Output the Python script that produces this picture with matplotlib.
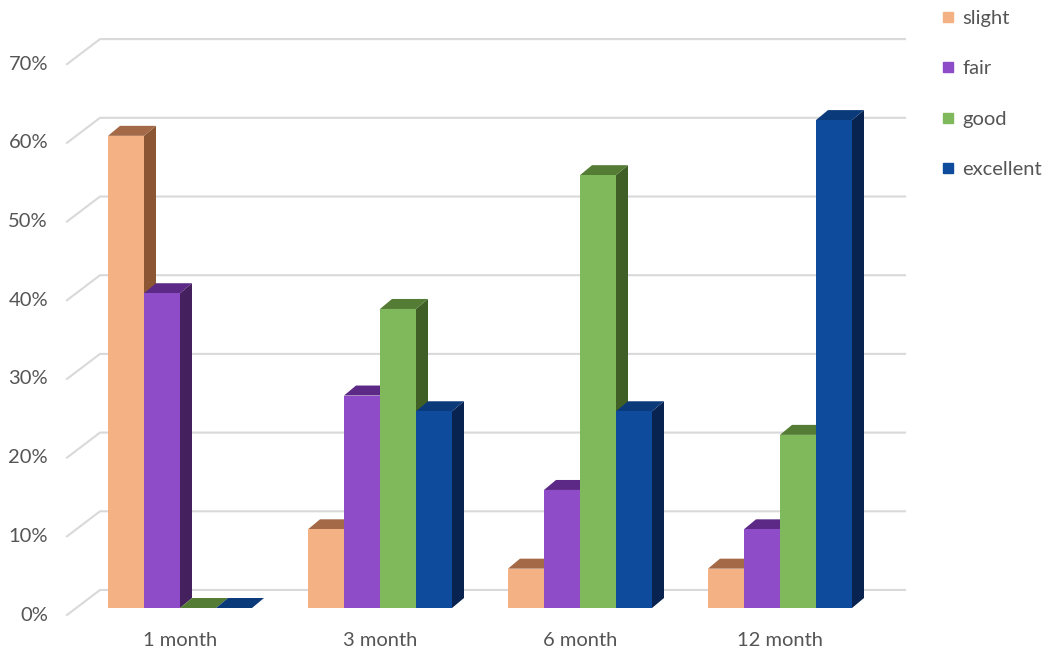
import matplotlib.pyplot as plt
from matplotlib.patches import Polygon
from matplotlib.lines import Line2D

# Данные
categories = ["1 month", "3 month", "6 month", "12 month"]
series = ["slight", "fair", "good", "excellent"]
slight = [60, 10, 5, 5]
fair = [40, 27, 15, 10]
good = [0, 38, 55, 22]
excellent = [0, 25, 25, 62]
ticks = [0, 10, 20, 30, 40, 50, 60, 70]

values = [slight, fair, good, excellent]
front_col = ["#F4B183", "#8E4CC8", "#80B95C", "#0F4B9C"]
top_col = ["#A46A48", "#5C2A86", "#547C34", "#0B3A7A"]
side_col = ["#8A5634", "#45205F", "#3F5F26", "#08234F"]

plt.rcParams['font.family'] = ['Lato', 'DejaVu Sans']
text_col = "#555555"

fig = plt.figure(figsize=(10.5, 6.59), dpi=100)
ax = fig.add_axes([0, 0, 1, 1])
ax.set_xlim(-0.9, 4.35)
ax.set_ylim(-6.48, 77.26)
ax.axis("off")

# смещения глубины (в единицах данных)
bdx, bdy = 0.06, 1.27       # задняя грань столбика
wfx, wfy = -0.045, -0.89    # передний край боковой стенки
wbx, wby = 0.12, 2.29       # задняя стенка
wall_left, wall_right = -0.565, 3.625

# сетка
for t in ticks:
    ax.plot([wall_left, wall_left + (wbx - wfx), wall_right],
            [t + wfy, t + wby, t + wby], color="#d9d9d9", lw=1.5, zorder=1)
    ax.text(-0.66, t + wfy, f"{t}%", ha="right", va="center",
            fontsize=14.5, color=text_col)

w = 0.18
z = 2
for j, cat in enumerate(categories):
    for i in range(len(series)):
        v = values[i][j]
        x0 = j - 2 * w + i * w
        x1 = x0 + w
        side = Polygon([(x1, 0), (x1 + bdx, bdy), (x1 + bdx, v + bdy), (x1, v)],
                       closed=True, facecolor=side_col[i], edgecolor="none", zorder=z)
        top = Polygon([(x0, v), (x0 + bdx, v + bdy), (x1 + bdx, v + bdy), (x1, v)],
                      closed=True, facecolor=top_col[i], edgecolor="none", zorder=z + 1)
        ax.add_patch(side)
        ax.add_patch(top)
        ax.bar(x0, v, width=w, align="edge", color=front_col[i],
               edgecolor="none", zorder=z + 2)
        z += 3
    ax.text(j, -4.1, cat, ha="center", va="center", fontsize=14.5, color=text_col)

handles = [Line2D([], [], marker="s", linestyle="none", markersize=7,
                  markerfacecolor=c, markeredgecolor=c) for c in front_col]
fig.legend(handles, series, loc="upper left", bbox_to_anchor=(930 / 1050, 1 - 2 / 659),
           frameon=False, fontsize=14.5, labelspacing=1.65, handletextpad=0.2,
           handlelength=1.0, labelcolor=text_col, borderaxespad=0)

fig.savefig("out.png", dpi=100)
